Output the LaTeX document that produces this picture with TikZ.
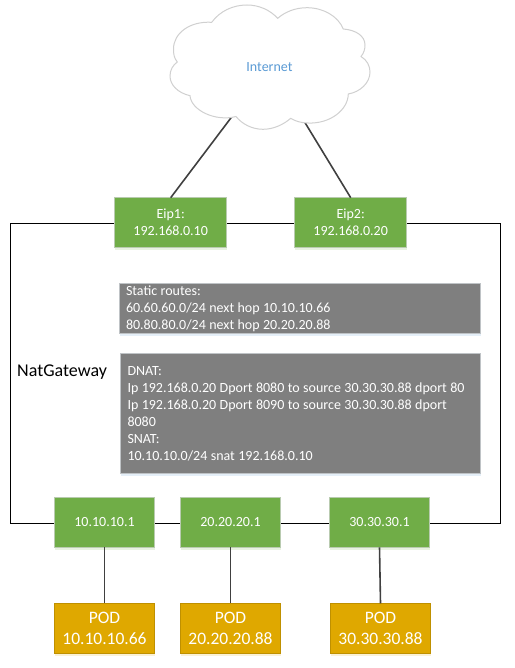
\documentclass[tikz,border=0pt]{standalone}
\usepackage{fontspec}
\setmainfont{Carlito}
\usetikzlibrary{shadows}
\definecolor{boxgreen}{HTML}{70AD47}
\definecolor{boxgreenedge}{HTML}{B9CBB0}
\definecolor{boxgray}{HTML}{7F7F7F}
\definecolor{boxgrayedge}{HTML}{BFC3C6}
\definecolor{boxgold}{HTML}{DFA800}
\definecolor{boxgoldedge}{HTML}{BF9000}
\definecolor{wire}{HTML}{404040}
\definecolor{cloudedge}{HTML}{D0D0D0}
\definecolor{cloudtext}{HTML}{5B9BD5}
\tikzset{
  softshadow/.style={general shadow={fill=#1,opacity=.16,shadow xshift=0.5pt,shadow yshift=-2.5pt}},
  basebox/.style={draw,line width=1pt,outer sep=0pt,inner sep=0pt,align=center,text=white,
    font=\fontsize{14}{17}\selectfont},
  gateway/.style={basebox,fill=boxgreen,draw=boxgreenedge,minimum height=49.6pt,softshadow=boxgreen},
  eip/.style={gateway,minimum width=112pt},
  port/.style={gateway,minimum width=100.4pt},
  pod/.style={basebox,fill=boxgold,draw=boxgoldedge,minimum width=100.4pt,minimum height=50.4pt,
    font=\fontsize{17.5}{21}\selectfont,softshadow=boxgold},
  rules/.style={basebox,fill=boxgray,draw=boxgrayedge,align=left,softshadow=cloudtext,
    execute at begin node={\spaceskip=.245em\relax\xspaceskip=.245em\relax}},
  wireline/.style={draw=wire,line width=1.6pt},
  border/.style={draw=black,line width=1pt,outer sep=0pt,minimum width=490pt,minimum height=300pt}
}
\begin{document}
\begin{tikzpicture}[x=1pt,y=-1pt]
\useasboundingbox (0,0) rectangle (514,668);
% outer gateway frame
\node[border] (nat) at (255.5,373.3) {};
\node[anchor=west,inner sep=0pt,font=\fontsize{18}{21}\selectfont] (natlabel) at (17,372) {NatGateway};
% anchor points on the cloud outline
\coordinate (cloudleft) at (232,116.5);
\coordinate (cloudright) at (304,121);
% boxes
\node[eip] (eipa) at (170.7,222.5) {Eip1:\\192.168.0.10};
\node[eip] (eipb) at (350.7,222.5) {Eip2:\\192.168.0.20};
\node[port] (porta) at (104.5,522.5) {10.10.10.1};
\node[port] (portb) at (230.5,522.5) {20.20.20.1};
\node[port] (portc) at (379.5,522.5) {30.30.30.1};
\node[pod] (poda) at (104.5,628.5) {POD\\10.10.10.66};
\node[pod] (podb) at (230.5,628.5) {POD\\20.20.20.88};
\node[pod] (podc) at (380.5,628.5) {POD\\30.30.30.88};
\node[rules,minimum width=361.4pt,minimum height=49.6pt,text width=348pt] (routes) at (300,308.5)
  {Static routes:\\60.60.60.0/24 next hop 10.10.10.66\\80.80.80.0/24 next hop 20.20.20.88};
\node[rules,minimum width=360.4pt,minimum height=119.6pt,text width=346pt] (nattable) at (300.5,413.5)
  {DNAT:\\Ip 192.168.0.20 Dport 8080 to source 30.30.30.88 dport 80\\Ip 192.168.0.20 Dport 8090 to source 30.30.30.88 dport\\8080\\SNAT:\\10.10.10.0/24 snat 192.168.0.10};
% connectors
\draw[wireline] (cloudleft) -- (eipa.north);
\draw[wireline] (cloudright) -- (eipb.north);
\draw[wireline] (porta.south) -- (poda.north);
\draw[wireline] (portb.south) -- (podb.north);
\draw[wireline] (portc.south) -- (podc.north);
% cloud
\draw[draw=cloudedge,fill=white,line width=1pt]
  (211.7,22.3) .. controls (220,11) and (233,5) .. (247,5)
  .. controls (259,5) and (270,10) .. (277.7,18.3)
  .. controls (285,12) and (295,7.7) .. (307,7.7)
  .. controls (323,7.7) and (338,16) .. (343.3,29)
  .. controls (356,30) and (365,36) .. (365,45)
  .. controls (365,49) and (364,53) .. (361,56.5)
  .. controls (367,60) and (370,66) .. (370,72)
  .. controls (370,83) and (360,92) .. (348.3,94)
  .. controls (348,110) and (330,124) .. (308,123)
  .. controls (301,123) and (295,121) .. (290.7,118.3)
  .. controls (283,125) and (273,129.3) .. (263,129.3)
  .. controls (252,129.3) and (242,124) .. (236,116.5)
  .. controls (215,122) and (191,110) .. (190,95.7)
  .. controls (178,93) and (170,85) .. (170,76)
  .. controls (170,70) and (173,65) .. (177.3,62)
  .. controls (174,58) and (173.5,54) .. (173.5,49)
  .. controls (173.5,33) and (190,21) .. (211.7,22.3)
  -- cycle;
\node[inner sep=0pt,text=cloudtext,font=\fontsize{14}{17}\selectfont] (internet) at (269.5,67.5) {Internet};
\end{tikzpicture}
\end{document}
